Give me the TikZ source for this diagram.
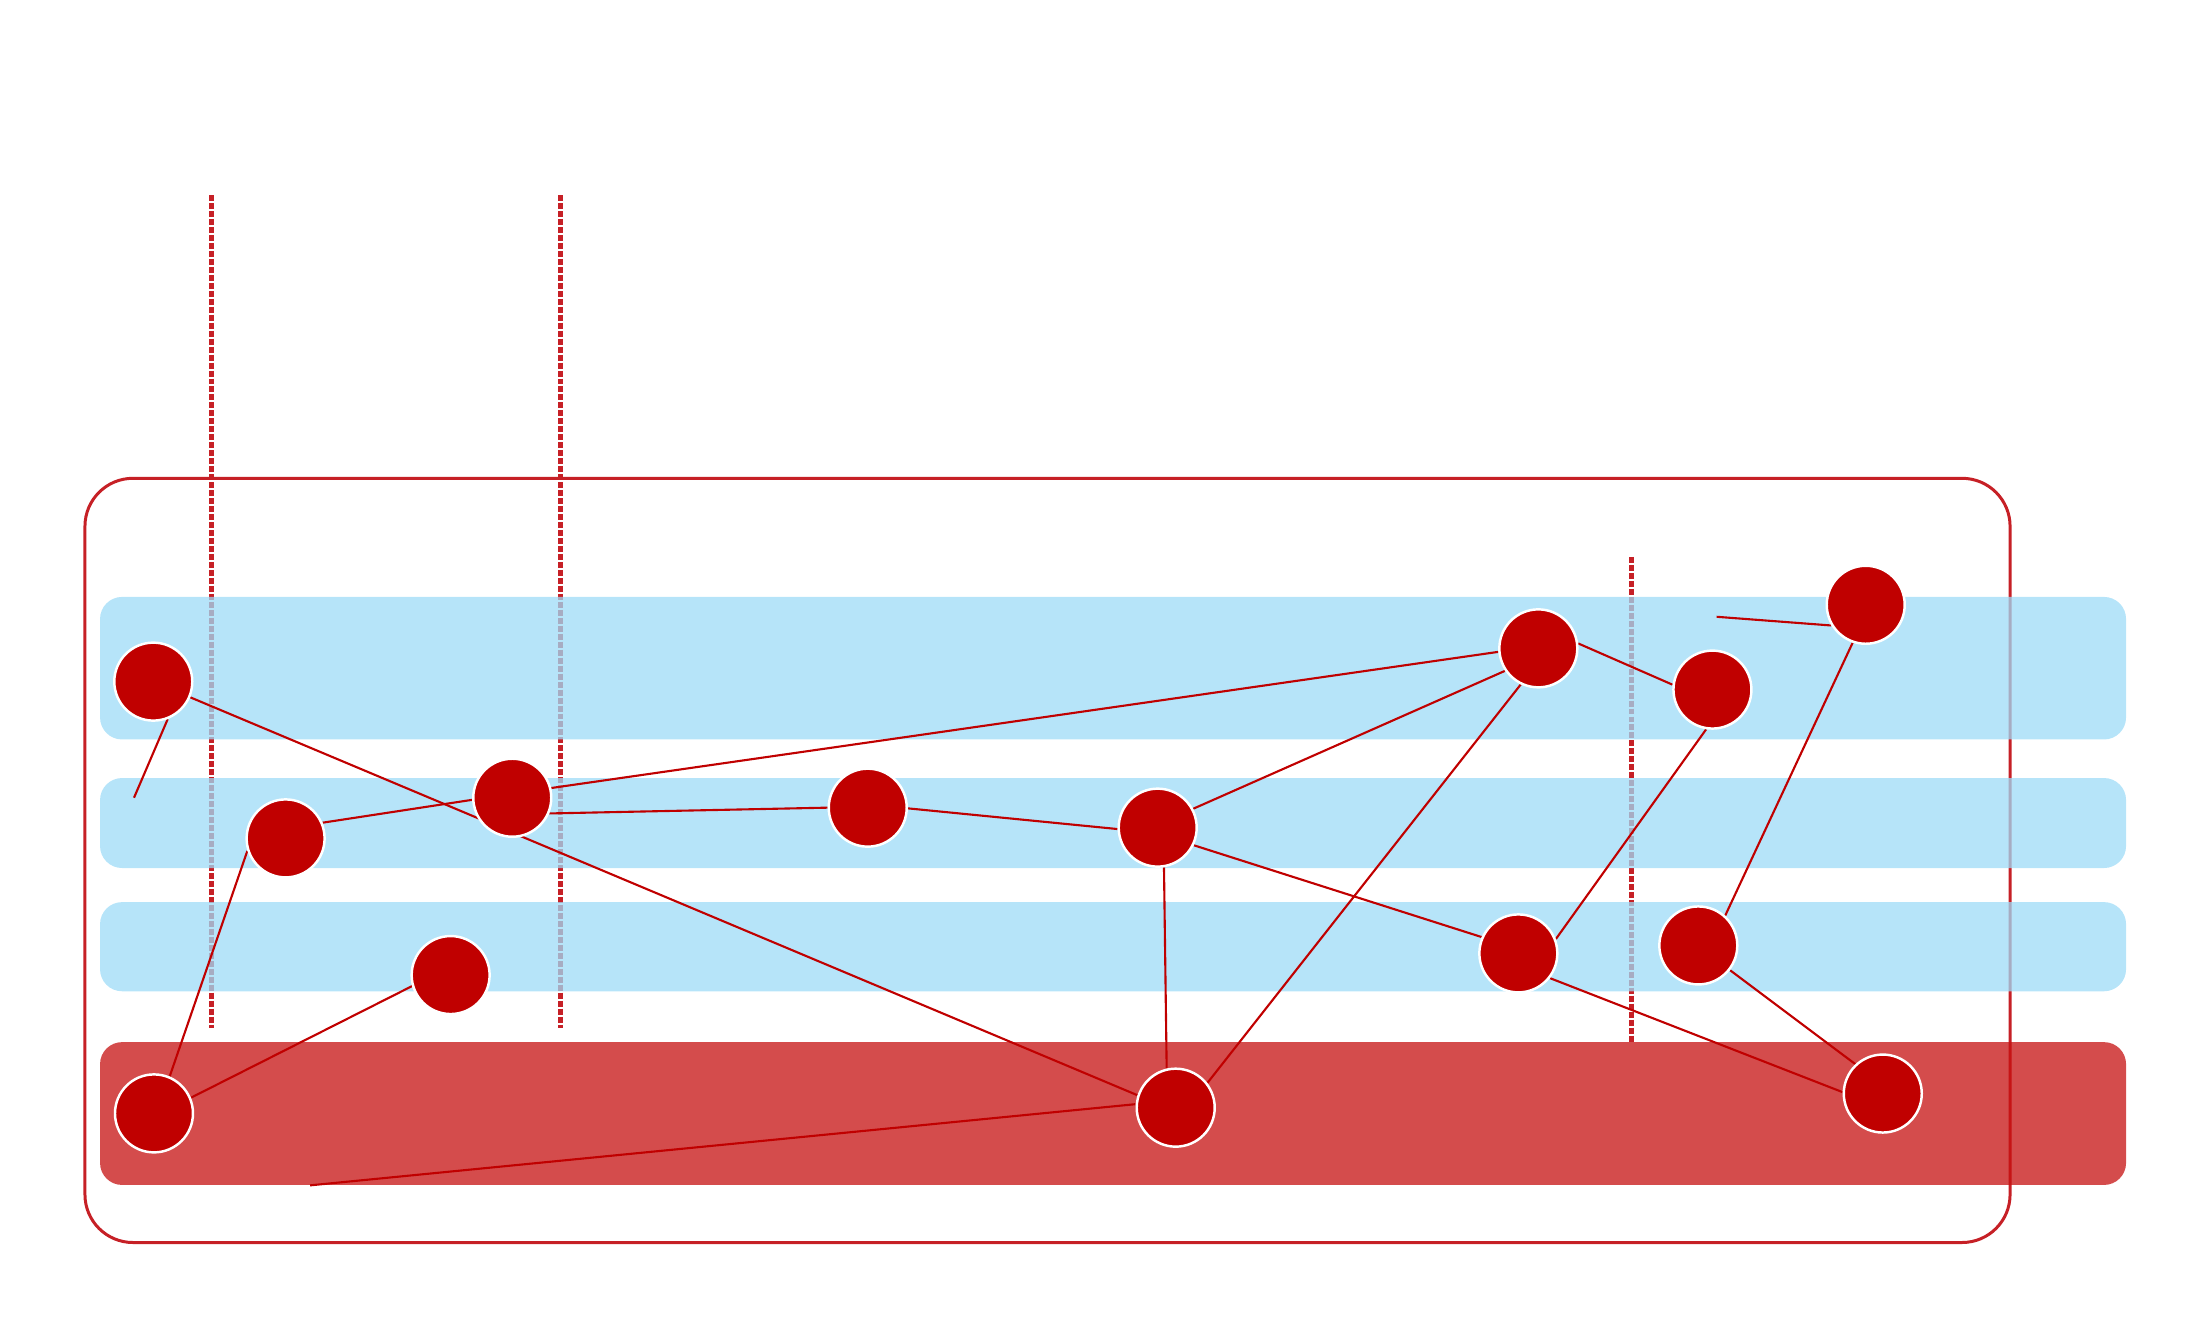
\documentclass[tikz,border=0pt]{standalone}
\usepackage{tikz}
\definecolor{nodered}{RGB}{192,0,0}
\definecolor{framered}{RGB}{198,32,38}
\definecolor{laneblue}{RGB}{157,219,247}
\definecolor{lanered}{RGB}{198,16,16}
\pgfdeclarelayer{back}
\pgfdeclarelayer{lanes}
\pgfdeclarelayer{links}
\pgfsetlayers{back,lanes,links,main}
\tikzset{
    station/.style={
           circle,
           fill=nodered,
           draw=white, line width=0.7pt,
           minimum size=0.78cm,
           inner sep=0pt,
           },
    lane/.style={
           fill opacity=0.75,
           rounded corners=0.22cm,
           },
    marker/.style={
           draw=framered, line width=1.4pt,
           dash pattern=on 1.7pt off 0.57pt,
           },
}

\begin{document}
\begin{tikzpicture}[x=0.013973cm, y=-0.013973cm, link/.style={draw=nodered, line width=0.6pt}]
  \useasboundingbox (0,0) rectangle (1568,944);

  \node[station] (N1)  at (109.7,487.8) {};
  \node[station] (N2)  at (204.4,600.0) {};
  \node[station] (N3)  at (366.6,570.9) {};
  \node[station] (N4)  at (621.0,578.0) {};
  \node[station] (N5)  at (828.5,592.3) {};
  \node[station] (N6)  at (1100.9,464.0) {};
  \node[station] (N7)  at (1225.5,493.5) {};
  \node[station] (N8)  at (1335.2,432.8) {};
  \node[station] (N9)  at (322.5,697.8) {};
  \node[station] (N10) at (1086.6,682.3) {};
  \node[station] (N11) at (1215.4,676.6) {};
  \node[station] (N12) at (110.2,796.8) {};
  \node[station] (N13) at (841.4,792.7) {};
  \node[station] (N14) at (1347.4,782.6) {};

  \coordinate (End1) at (95.9,570.9);
  \coordinate (End2) at (1228.5,441.4);
  \coordinate (End3) at (221.9,848.3);

  \begin{pgfonlayer}{back}
    \draw[framered, line width=0.85pt, rounded corners=0.48cm] (60.8,342.3) rectangle (1438.5,889.2);
    \draw[marker] (151.5,139.6) -- (151.5,735.5);
    \draw[marker] (400.8,139.6) -- (400.8,735.5);
    \draw[marker] (1167.5,398.6) -- (1167.5,745.7);
  \end{pgfonlayer}

  \begin{pgfonlayer}{lanes}
    \fill[lane, laneblue] (71.6,427.2) rectangle (1521.5,529.2);
    \fill[lane, laneblue] (71.6,556.8) rectangle (1521.5,621.2);
    \fill[lane, laneblue] (71.6,645.6) rectangle (1521.5,709.4);
    \fill[lane, lanered]  (71.6,745.8) rectangle (1521.5,848.0);
  \end{pgfonlayer}

  \begin{pgfonlayer}{links}
    \draw[link] (N1.-69)   edge (End1);
    \draw[link] (N1.-23)   edge (N13.162);
    \draw[link] (N2.23)    edge (N3.183);
    \draw[link] (N2.198)   edge (N12.67);
    \draw[link] (N3.14)    edge (N6.185);
    \draw[link] (N3.-23)   edge (N4.180);
    \draw[link] (N4.-1)    edge (N5.182);
    \draw[link] (N5.28)    edge (N6.214);
    \draw[link] (N5.-26)   edge (N10.156);
    \draw[link] (N5.-81)   edge (N13.103);
    \draw[link] (N6.7)     edge (N7.173);
    \draw[link] (N6.-116)  edge (N13.38);
    \draw[link] (N7.-99)   edge (N10.21);
    \draw[link] (N8.211)   edge (End2);
    \draw[link] (N8.-109)  edge (N11.48);
    \draw[link] (N9.196)   edge (N12.23);
    \draw[link] (N10.-38)  edge (N14.178);
    \draw[link] (N11.-38)  edge (N14.133);
    \draw[link] (N13.175)  edge (End3);
  \end{pgfonlayer}

\end{tikzpicture}
\end{document}
